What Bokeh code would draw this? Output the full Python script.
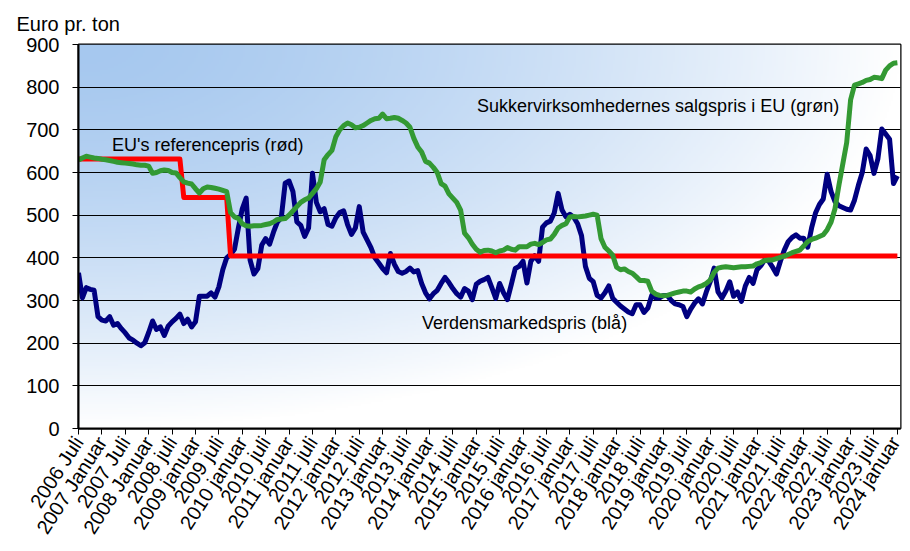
import math
import numpy as np
from bokeh.plotting import figure
from bokeh.models import Label, FixedTicker, Range1d
from bokeh.embed import file_html
from bokeh.resources import INLINE

# ---------------- data ----------------
# month index 0 = 2006 juli, 210 = 2024 januar
tick_months = list(range(0, 211, 6))
tick_labels = [
    "2006 Juli", "2007 Januar", "2007 Juli", "2008 Januar", "2008 juli",
    "2009 januar", "2009 juli", "2010 januar", "2010 juli", "2011 januar",
    "2011 juli", "2012 januar", "2012 juli", "2013 januar", "2013 juli",
    "2014 januar", "2014 juli", "2015 januar", "2015 juli", "2016 januar",
    "2016 juli", "2017 januar", "2017 juli", "2018 januar", "2018 juli",
    "2019 januar", "2019 juli", "2020 januar", "2020 juli", "2021 januar",
    "2021 juli", "2022 januar", "2022 juli", "2023 januar", "2023 juli",
    "2024 januar",
]

# Verdensmarkedspris (blå), monthly
world_price = [
    365, 306, 330, 326, 324, 262, 254, 252, 262, 242,
    246, 234, 224, 212, 207, 200, 194, 201, 225, 252,
    232, 238, 218, 240, 250, 258, 268, 246, 256, 238,
    250, 310, 310, 310, 318, 308, 332, 372, 400, 408,
    420, 470, 515, 540, 395, 362, 375, 430, 445, 432,
    460, 484, 494, 575, 580, 555, 484, 476, 450, 470,
    598, 530, 508, 515, 478, 474, 494, 506, 510, 478,
    455, 470, 520, 460, 442, 424, 400, 388, 375, 365,
    410, 385, 368, 364, 368, 376, 367, 370, 340, 318,
    304, 316, 324, 340, 354, 342, 328, 316, 308, 328,
    322, 302, 338, 345, 349, 354, 330, 305, 340, 318,
    302, 338, 375, 380, 392, 341, 392, 405, 392, 472,
    482, 486, 505, 551, 512, 496, 502, 495, 480, 452,
    380, 352, 344, 312, 306, 318, 334, 305, 296, 287,
    280, 273, 269, 290, 290, 272, 282, 312, 306, 306,
    312, 312, 300, 292, 290, 286, 262, 280, 294, 304,
    292, 320, 344, 376, 320, 306, 322, 344, 310, 320,
    298, 334, 354, 340, 372, 382, 396, 392, 378, 362,
    392, 418, 438, 448, 454, 446, 446, 425, 470, 505,
    525, 538, 596, 555, 532, 522, 518, 514, 512, 535,
    570, 600, 655, 640, 598, 632, 702, 690, 678, 574,
    592,
]

# Sukkervirksomhedernes salgspris i EU (grøn), monthly
eu_sales_price = [
    629, 634, 638, 636, 634, 633, 631, 630, 628, 626,
    624, 623, 622, 621, 620, 618, 617, 617, 615, 598,
    600, 604, 606, 605, 600, 599, 588, 578, 575, 573,
    562, 552, 562, 566, 565, 563, 561, 558, 555, 506,
    496, 492, 480, 475, 474, 475, 475, 476, 478, 480,
    484, 490, 491, 492, 500, 510, 520, 530, 536, 540,
    551, 562, 578, 630, 642, 652, 684, 700, 710, 716,
    712, 705, 706, 710, 716, 722, 726, 727, 737, 726,
    727, 729, 727, 722, 716, 706, 680, 660, 648, 626,
    622, 612, 600, 574, 568, 550, 540, 530, 512, 458,
    447, 432, 420, 413, 417, 418, 416, 412, 416, 418,
    424, 420, 418, 426, 426, 426, 432, 434, 431, 436,
    442, 444, 455, 470, 476, 480, 496, 497, 496, 497,
    498, 500, 502, 500, 445, 425, 416, 406, 378, 372,
    374, 368, 364, 356, 347, 347, 345, 322, 315, 312,
    311, 312, 315, 318, 320, 322, 322, 320, 327, 332,
    335, 340, 348, 366, 376, 378, 379, 378, 377, 378,
    379, 379, 380, 381, 386, 389, 394, 395, 395, 398,
    401, 404, 408, 412, 415, 418, 428, 438, 443, 446,
    450, 454, 466, 484, 515, 570, 620, 670, 770, 805,
    808, 811, 816, 818, 823, 822, 820, 840, 850, 856,
    857,
]

# EU's referencepris (rød): first month of each period and price
ref_period_start = [0, 27, 39]
ref_period_price = [631.9, 541.5, 404.4]

months = list(range(len(world_price)))
ref_price = []
for m in months:
    val = ref_period_price[0]
    for s, pr in zip(ref_period_start, ref_period_price):
        if m >= s:
            val = pr
    ref_price.append(val)

# ---------------- figure ----------------
FONT = "Liberation Sans"
X_END = 210.8

p = figure(
    width=904, height=551,
    frame_width=822, frame_height=384,
    x_range=Range1d(0, X_END), y_range=Range1d(0, 900),
    output_backend="svg", toolbar_location=None,
    min_border_left=78, min_border_right=4,
    min_border_top=43, min_border_bottom=124,
)
p.background_fill_color = "white"
p.border_fill_color = "white"
p.outline_line_color = "black"
p.outline_line_width = 2

p.title.text = "Euro pr. ton"
p.title.align = "left"
p.title.offset = -62
p.title.text_font = FONT
p.title.text_font_size = "20px"
p.title.text_font_style = "normal"
p.title.text_color = "black"
p.title.standoff = 20

# gradient background (style only)
H, W = 200, 400
u = np.linspace(0, 1, W)[None, :]
v = np.linspace(1, 0, H)[:, None]
t = np.clip(np.sqrt(u ** 2 + v ** 2), 0, 1) ** 1.5
c0 = np.array([166, 200, 239])
img = np.empty((H, W), dtype=np.uint32)
view = img.view(dtype=np.uint8).reshape((H, W, 4))
for k in range(3):
    view[:, :, k] = (c0[k] + (255 - c0[k]) * t).astype(np.uint8)
view[:, :, 3] = 255
p.image_rgba(image=[img], x=0, y=0, dw=X_END, dh=900, level="image")

# grid
p.xgrid.visible = False
p.ygrid.grid_line_color = "black"
p.ygrid.grid_line_width = 1

# axes
p.yaxis.ticker = FixedTicker(ticks=list(range(0, 901, 100)))
p.xaxis.ticker = FixedTicker(ticks=tick_months)
p.xaxis.major_label_overrides = {m: lab for m, lab in zip(tick_months, tick_labels)}
p.xaxis.major_label_orientation = math.radians(57)
for ax in (p.xaxis, p.yaxis):
    ax.axis_line_color = "black"
    ax.axis_line_width = 2
    ax.major_tick_line_color = "black"
    ax.major_tick_line_width = 1
    ax.major_tick_out = 6
    ax.major_tick_in = 0
    ax.minor_tick_out = 0
    ax.minor_tick_in = 0
    ax.major_label_text_font = FONT
    ax.major_label_text_font_size = "20px"
    ax.major_label_text_color = "black"
p.yaxis.major_label_standoff = 13
p.xaxis.major_label_standoff = 4

# series
p.line(months, world_price, line_color="#000080", line_width=5, line_join="round")
p.line(months, ref_price, line_color="#ff0000", line_width=5, line_join="round")
p.line(months, eu_sales_price, line_color="#339933", line_width=5, line_join="round")

# annotations
for x, y, txt in [
    (8.6, 665, "EU's referencepris (rød)"),
    (102.2, 755, "Sukkervirksomhedernes salgspris i EU (grøn)"),
    (88.1, 247, "Verdensmarkedspris (blå)"),
]:
    p.add_layout(Label(x=x, y=y, text=txt, text_font=FONT, text_font_size="18px",
                       text_baseline="middle", text_align="left", text_color="black"))

open("out.html", "w").write(file_html(p, INLINE))
